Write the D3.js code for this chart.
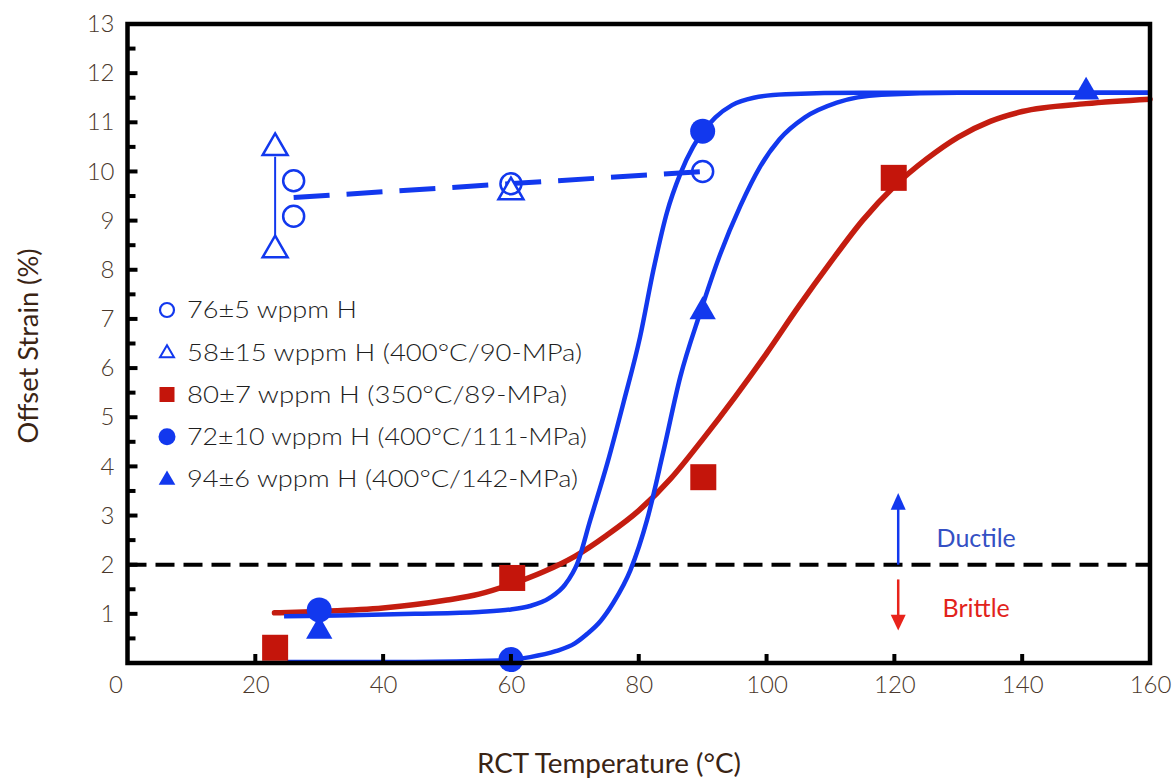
<!DOCTYPE html>
<html>
<head>
<meta charset="utf-8">
<script src="https://cdn.jsdelivr.net/npm/d3@7"></script>
<style>
  html, body { margin: 0; padding: 0; background: #ffffff; }
  svg { display: block; }
  text { font-family: "Lato", "Open Sans", "DejaVu Sans", sans-serif; }
</style>
</head>
<body>
<svg id="chart" width="1176" height="779"></svg>
<script>
// ---------------- data ----------------
const xTickValues = [0, 20, 40, 60, 80, 100, 120, 140, 160];
const yTickValues = [1, 2, 3, 4, 5, 6, 7, 8, 9, 10, 11, 12, 13];
const yMinorValues = [0.5, 1.5, 2.5, 3.5, 4.5, 5.5, 6.5, 7.5, 8.5, 9.5, 10.5, 11.5, 12.5];

const legendLabels = [
  "76\u00B15 wppm H",
  "58\u00B115 wppm H (400\u00B0C/90-MPa)",
  "80\u00B17 wppm H (350\u00B0C/89-MPa)",
  "72\u00B110 wppm H (400\u00B0C/111-MPa)",
  "94\u00B16 wppm H (400\u00B0C/142-MPa)"
];

// open circles: 76±5 wppm H
const openCircleT = [26, 26, 60, 90];
const openCircleV = [9.81, 9.09, 9.75, 10.0];
// open triangles: 58±15 wppm H
const openTriT = [23.1, 23.1, 60];
const openTriV = [10.48, 8.4, 9.58];
// range bar joining the two open triangles
const rangeT = [23.1, 23.1];
const rangeV = [8.55, 10.3];
// dashed trend through open symbols
const dashT = [26, 90];
const dashV = [9.47, 10.0];

// filled squares: 80±7 wppm H
const squareT = [23.1, 60.2, 90.1, 119.9];
const squareV = [0.31, 1.73, 3.78, 9.87];
// filled circles: 72±10 wppm H
const dotT = [30, 60, 90];
const dotV = [1.08, 0.07, 10.82];
// filled triangles: 94±6 wppm H
const triT = [30, 90, 150];
const triV = [0.65, 7.15, 11.62];

// fitted curves
const blue1T = [24.5, 35, 45, 55, 60, 63, 66, 68.5, 70.4, 72.4, 75.1, 77.6, 80.2, 82.3, 84.4, 86.5, 88.5, 90, 92, 94.6, 98, 103, 115, 160];
const blue1V = [0.95, 0.97, 1.0, 1.04, 1.09, 1.16, 1.32, 1.6, 2.03, 2.9, 4.07, 5.29, 6.63, 8.0, 9.16, 9.95, 10.5, 10.8, 11.1, 11.35, 11.5, 11.57, 11.6, 11.6];

const blue2T = [25, 45, 58, 63, 67, 70, 72, 74, 76, 78.7, 81.3, 83.8, 86.5, 89.6, 92.7, 95.9, 99, 102, 106, 111, 118, 130, 160];
const blue2V = [0.02, 0.02, 0.05, 0.12, 0.24, 0.4, 0.6, 0.85, 1.22, 1.89, 2.91, 4.27, 5.82, 7.12, 8.3, 9.3, 10.1, 10.65, 11.1, 11.4, 11.56, 11.6, 11.6];

const redT = [23, 30, 40, 50, 55, 60, 65, 70, 75, 80, 85, 90, 95, 100, 105, 110, 115, 120, 125, 130, 135, 140, 150, 160];
const redV = [1.02, 1.05, 1.12, 1.28, 1.4, 1.6, 1.85, 2.17, 2.6, 3.1, 3.75, 4.55, 5.4, 6.3, 7.25, 8.15, 9.0, 9.7, 10.25, 10.7, 11.02, 11.22, 11.38, 11.47];

const thresholdV = 2;

// ---------------- layout ----------------
const BLUE = "#1238ee";
const RED = "#c4150b";
const RED_LINE = "#c41d10";
const TICK_COLOR = "#4a382c";
const TITLE_COLOR = "#3a2414";

const svg = d3.select("#chart");
const x = d3.scaleLinear().domain([0, 160]).range([127.5, 1150]);
const y = d3.scaleLinear().domain([0, 13]).range([663, 24]);

// threshold dashed line (drawn first)
svg.append("line")
  .attr("x1", x(0)).attr("x2", x(160))
  .attr("y1", y(thresholdV)).attr("y2", y(thresholdV))
  .attr("stroke", "#000").attr("stroke-width", 4)
  .attr("stroke-dasharray", "19,9");

// curves
const line = d3.line().x(d => x(d[0])).y(d => y(d[1])).curve(d3.curveMonotoneX);
const zip = (a, b) => a.map((v, i) => [v, b[i]]);

svg.append("path").datum(zip(redT, redV))
  .attr("d", line).attr("fill", "none").attr("stroke", RED_LINE).attr("stroke-width", 5.5)
  .attr("stroke-linecap", "round");
svg.append("path").datum(zip(blue2T, blue2V))
  .attr("d", line).attr("fill", "none").attr("stroke", BLUE).attr("stroke-width", 4.5);
svg.append("path").datum(zip(blue1T, blue1V))
  .attr("d", line).attr("fill", "none").attr("stroke", BLUE).attr("stroke-width", 4.5);

// dashed blue trend
svg.append("path").datum(zip(dashT, dashV))
  .attr("d", d3.line().x(d => x(d[0])).y(d => y(d[1])))
  .attr("fill", "none").attr("stroke", BLUE).attr("stroke-width", 5)
  .attr("stroke-dasharray", "36,17");

// range bar
svg.append("line")
  .attr("x1", x(rangeT[0])).attr("x2", x(rangeT[1]))
  .attr("y1", y(rangeV[0])).attr("y2", y(rangeV[1]))
  .attr("stroke", BLUE).attr("stroke-width", 2);

// markers
const triPath = d3.symbol().type(d3.symbolTriangle).size(300)();
const triSmall = d3.symbol().type(d3.symbolTriangle).size(270)();

svg.append("g").selectAll("path").data(zip(openTriT, openTriV)).join("path")
  .attr("d", triSmall)
  .attr("transform", d => `translate(${x(d[0])},${y(d[1])})`)
  .attr("fill", "#fff").attr("stroke", BLUE).attr("stroke-width", 2.5);

svg.append("g").selectAll("circle").data(zip(openCircleT, openCircleV)).join("circle")
  .attr("cx", d => x(d[0])).attr("cy", d => y(d[1])).attr("r", 10.5)
  .attr("fill", "none").attr("stroke", BLUE).attr("stroke-width", 2.5);

svg.append("g").selectAll("rect").data(zip(squareT, squareV)).join("rect")
  .attr("x", d => x(d[0]) - 13).attr("y", d => y(d[1]) - 13)
  .attr("width", 26).attr("height", 26).attr("fill", RED);

svg.append("g").selectAll("path").data(zip(triT, triV)).join("path")
  .attr("d", triPath)
  .attr("transform", d => `translate(${x(d[0])},${y(d[1])})`)
  .attr("fill", BLUE);

svg.append("g").selectAll("circle").data(zip(dotT, dotV)).join("circle")
  .attr("cx", d => x(d[0])).attr("cy", d => y(d[1])).attr("r", 12.5)
  .attr("fill", BLUE);

// ductile / brittle annotation
const arrowT = 120.6;
svg.append("line")
  .attr("x1", x(arrowT)).attr("x2", x(arrowT))
  .attr("y1", y(2)).attr("y2", y(3.2))
  .attr("stroke", BLUE).attr("stroke-width", 2.5);
svg.append("path")
  .attr("d", `M${x(arrowT) - 7.5},${y(3.12)} L${x(arrowT) + 7.5},${y(3.12)} L${x(arrowT)},${y(3.46)} Z`)
  .attr("fill", BLUE);
svg.append("line")
  .attr("x1", x(arrowT)).attr("x2", x(arrowT))
  .attr("y1", y(1.7)).attr("y2", y(0.85))
  .attr("stroke", "#e8231b").attr("stroke-width", 2.5);
svg.append("path")
  .attr("d", `M${x(arrowT) - 7.5},${y(0.98)} L${x(arrowT) + 7.5},${y(0.98)} L${x(arrowT)},${y(0.66)} Z`)
  .attr("fill", "#e8231b");

svg.append("text").text("Ductile")
  .attr("x", x(132.8)).attr("y", y(2.54)).attr("dy", "0.35em")
  .attr("text-anchor", "middle").attr("font-size", 25).attr("fill", "#3450c4");
svg.append("text").text("Brittle")
  .attr("x", x(132.8)).attr("y", y(1.12)).attr("dy", "0.35em")
  .attr("text-anchor", "middle").attr("font-size", 25).attr("fill", "#e2231b");

// ---------------- axes & frame ----------------
// left axis (ticks pointing inward)
const yAxis = d3.axisLeft(y).tickValues(yTickValues).tickSize(0).tickPadding(0);
const gy = svg.append("g").attr("transform", `translate(${x(0)},0)`).call(yAxis);
gy.select(".domain").remove();
gy.selectAll("text")
  .attr("x", -13).attr("font-size", 24).attr("font-weight", 300)
  .attr("fill", TICK_COLOR)
  .style("font-family", '"Lato", "Open Sans", "DejaVu Sans", sans-serif');

svg.append("g").selectAll("line").data(yTickValues.slice(0, -1)).join("line")
  .attr("x1", x(0)).attr("x2", x(0) + 10)
  .attr("y1", d => y(d)).attr("y2", d => y(d))
  .attr("stroke", "#000").attr("stroke-width", 4);
svg.append("g").selectAll("line").data(yMinorValues).join("line")
  .attr("x1", x(0)).attr("x2", x(0) + 8)
  .attr("y1", d => y(d)).attr("y2", d => y(d))
  .attr("stroke", "#000").attr("stroke-width", 4);

// bottom axis
const xAxis = d3.axisBottom(x).tickValues(xTickValues).tickSize(0).tickPadding(0);
const gx = svg.append("g").attr("transform", `translate(0,${y(0)})`).call(xAxis);
gx.select(".domain").remove();
gx.selectAll("text")
  .attr("y", 22).attr("dy", "0.35em")
  .attr("font-size", 24).attr("font-weight", 300)
  .attr("fill", TICK_COLOR)
  .style("font-family", '"Lato", "Open Sans", "DejaVu Sans", sans-serif')
  .attr("dx", d => d === 0 ? -12 : 0);

svg.append("g").selectAll("line").data(xTickValues.slice(1, -1)).join("line")
  .attr("x1", d => x(d)).attr("x2", d => x(d))
  .attr("y1", y(0)).attr("y2", y(0) - 9)
  .attr("stroke", "#000").attr("stroke-width", 4);

// frame
svg.append("rect")
  .attr("x", x(0)).attr("y", y(13))
  .attr("width", x(160) - x(0)).attr("height", y(0) - y(13))
  .attr("fill", "none").attr("stroke", "#000").attr("stroke-width", 4.5);

// axis titles
svg.append("text").text("RCT Temperature (\u00B0C)")
  .attr("x", 609).attr("y", 764).attr("dy", "0.35em")
  .attr("text-anchor", "middle").attr("font-size", 26)
  .attr("textLength", 264).attr("lengthAdjust", "spacingAndGlyphs")
  .attr("fill", TITLE_COLOR);
svg.append("text").text("Offset Strain (%)")
  .attr("transform", `translate(29,346) rotate(-90)`)
  .attr("dy", "0.35em")
  .attr("text-anchor", "middle").attr("font-size", 26)
  .attr("textLength", 195).attr("lengthAdjust", "spacingAndGlyphs")
  .attr("fill", TITLE_COLOR);

// ---------------- legend ----------------
const legendWidths = [170, 395, 380, 400, 391];
const legend = svg.append("g");
const legendY = d3.scaleLinear().domain([0, 4]).range([310, 479]);
legendLabels.forEach((lab, i) => {
  const cy = legendY(i);
  const mx = 167;
  if (i === 0) {
    legend.append("circle").attr("cx", mx).attr("cy", cy).attr("r", 7)
      .attr("fill", "none").attr("stroke", BLUE).attr("stroke-width", 2.2);
  } else if (i === 1) {
    legend.append("path").attr("d", d3.symbol().type(d3.symbolTriangle).size(85)())
      .attr("transform", `translate(${mx},${cy + 1})`)
      .attr("fill", "none").attr("stroke", BLUE).attr("stroke-width", 2);
  } else if (i === 2) {
    legend.append("rect").attr("x", mx - 7.5).attr("y", cy - 7.5)
      .attr("width", 15).attr("height", 15).attr("fill", RED);
  } else if (i === 3) {
    legend.append("circle").attr("cx", mx).attr("cy", cy).attr("r", 8.5).attr("fill", BLUE);
  } else {
    legend.append("path").attr("d", d3.symbol().type(d3.symbolTriangle).size(120)())
      .attr("transform", `translate(${mx},${cy + 1})`)
      .attr("fill", BLUE);
  }
  legend.append("text").text(lab)
    .attr("x", 187).attr("y", cy).attr("dy", "0.35em")
    .attr("font-size", 24).attr("font-weight", 300)
    .attr("textLength", legendWidths[i]).attr("lengthAdjust", "spacingAndGlyphs")
    .attr("fill", "#1e1e1e");
});
</script>
</body>
</html>
